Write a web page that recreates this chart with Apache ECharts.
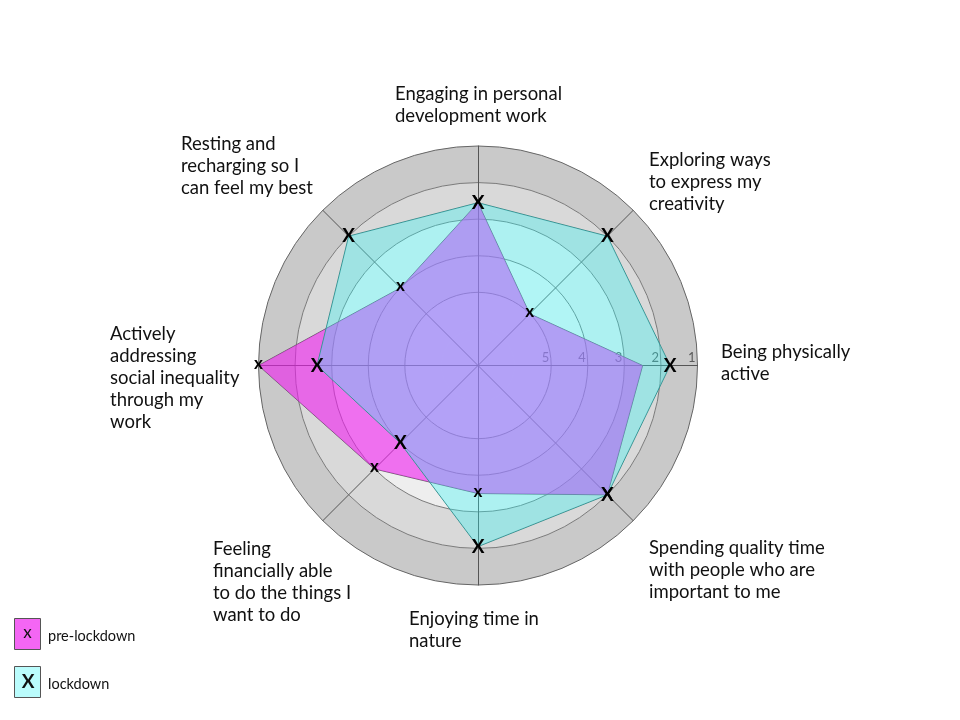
<!DOCTYPE html>
<html>
<head>
<meta charset="utf-8">
<title>Wellbeing before and during lockdown</title>
<script src="https://cdn.jsdelivr.net/npm/echarts@6.0.0/dist/echarts.min.js"></script>
<style>
  html, body { margin: 0; padding: 0; background: #fff; }
  #chart { width: 960px; height: 720px; }
</style>
</head>
<body>
<div id="chart"></div>
<script>
// categories in the order the radar lays them out (counter-clockwise from the top)
var categories = [
  "Engaging in personal\ndevelopment work",
  "Resting and\nrecharging so I\ncan feel my best",
  "Actively\naddressing\nsocial inequality\nthrough my\nwork",
  "Feeling\nfinancially able\nto do the things I\nwant to do",
  "Enjoying time in\nnature",
  "Spending quality time\nwith people who are\nimportant to me",
  "Being physically\nactive",
  "Exploring ways\nto express my\ncreativity"
];
// scores: 1 = outer ring, 5 = inner ring
var preLockdown = [2.55, 4, 1, 3, 3.5, 2, 2.5, 5];
var lockdown = [2.55, 2, 2.6, 4, 2.05, 2, 1.75, 2];
var preMarked = [true, true, true, true, true, true, false, true];
var seriesNames = ["pre-lockdown", "lockdown"];
var tickLabels = ["5", "4", "3", "2", "1"];

// where each category name is placed (left, top)
var namePos = [
  [395, 83], [181, 133], [110, 323], [213, 538],
  [409, 608], [649, 537], [721, 341], [649, 149]
];

// the radar runs 0 (centre) .. 6 (outer); score 1 sits on the rim
function flip(arr) {
  return arr.map(function (v) { return 7 - v; });
}

var FONT = "Lato, 'Open Sans', sans-serif";

var chart = echarts.init(document.getElementById("chart"));

var tickLabelCfg = {
  show: true,
  color: "#5a5a5a",
  fontFamily: FONT,
  fontSize: 13,
  align: "right",
  verticalAlign: "bottom",
  margin: 1,
  padding: [0, 2, 0, 0],
  formatter: function (v) {
    return v >= 2 ? tickLabels[Math.round(v) - 2] : "";
  }
};

var nameTexts = categories.map(function (c, i) {
  return {
    type: "text",
    left: namePos[i][0],
    top: namePos[i][1],
    style: {
      text: c,
      font: "18.5px " + FONT,
      lineHeight: 22,
      fill: "#111"
    }
  };
});

var legendItems = [
  { type: "rect", shape: { x: 14.5, y: 618.5, width: 26, height: 31 },
    style: { fill: "#f466f4", stroke: "#555", lineWidth: 1 } },
  { type: "text", x: 27.5, y: 633, style: { text: "x", font: "17px " + FONT, fill: "#111",
    align: "center", verticalAlign: "middle" } },
  { type: "text", x: 48, y: 636, style: { text: seriesNames[0], font: "14.5px " + FONT, fill: "#111",
    verticalAlign: "middle" } },
  { type: "rect", shape: { x: 14.5, y: 666.5, width: 26, height: 31 },
    style: { fill: "#bafcfc", stroke: "#555", lineWidth: 1 } },
  { type: "text", x: 28, y: 682, style: { text: "X", font: "bold 19px " + FONT, fill: "#111",
    align: "center", verticalAlign: "middle" } },
  { type: "text", x: 48, y: 684, style: { text: seriesNames[1], font: "14.5px " + FONT, fill: "#111",
    verticalAlign: "middle" } }
];

var option = {
  animation: false,
  radar: {
    center: [478, 365.5],
    radius: 219.5,
    startAngle: 90,
    shape: "circle",
    splitNumber: 6,
    indicator: categories.map(function (c, i) {
      return { name: c, min: 0, max: 6, axisLabel: i === 6 ? tickLabelCfg : { show: false } };
    }),
    axisName: { show: false },
    axisTick: { show: false },
    axisLabel: { show: false },
    axisLine: { lineStyle: { color: "#555", width: 1 } },
    splitLine: {
      lineStyle: {
        color: ["rgba(0,0,0,0)", "rgba(0,0,0,0)", "#7a7a7a", "#7a7a7a", "#7a7a7a", "#7a7a7a", "#666"],
        width: 1
      }
    },
    splitArea: {
      show: true,
      areaStyle: {
        color: ["#ffffff", "#ffffff", "#f4f4f4", "#eeeeee", "#d9d9d9", "#c9c9c9"]
      }
    }
  },
  series: [
    {
      name: seriesNames[0],
      type: "radar",
      symbol: "none",
      silent: true,
      lineStyle: { color: "#666", width: 1 },
      areaStyle: { color: "rgba(240,28,240,0.6)", opacity: 1 },
      data: [{ name: seriesNames[0], value: flip(preLockdown) }]
    },
    {
      name: seriesNames[1],
      type: "radar",
      symbol: "circle",
      symbolSize: 2,
      silent: true,
      itemStyle: { color: "rgba(0,0,0,0)" },
      lineStyle: { color: "#3d8585", width: 1 },
      areaStyle: { color: "rgba(42,248,248,0.33)", opacity: 1 },
      label: {
        show: true, position: "inside", formatter: "X", color: "#000",
        fontFamily: FONT, fontWeight: "bold", fontSize: 19
      },
      data: [{ name: seriesNames[1], value: flip(lockdown) }]
    },
    {
      // markers for pre-lockdown, drawn last so they sit on top
      name: seriesNames[0] + " markers",
      type: "radar",
      symbol: "circle",
      symbolSize: 2,
      silent: true,
      itemStyle: { color: "rgba(0,0,0,0)" },
      lineStyle: { opacity: 0 },
      label: {
        show: true, position: "inside", color: "#000", offset: [0, -2],
        fontFamily: FONT, fontWeight: "bold", fontSize: 17,
        formatter: function (p) {
          return preMarked[p.dimensionIndex] === false ? "" : "x";
        }
      },
      data: [{ name: seriesNames[0], value: flip(preLockdown) }]
    }
  ],
  graphic: nameTexts.concat(legendItems)
};

chart.setOption(option);
</script>
</body>
</html>
